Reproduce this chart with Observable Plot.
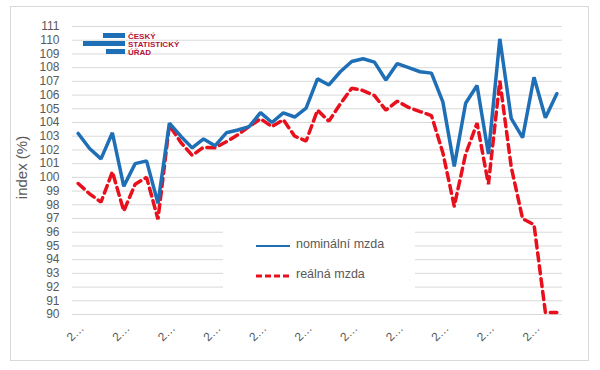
<!DOCTYPE html>
<html>
<head>
<meta charset="utf-8">
<script src="https://cdn.jsdelivr.net/npm/d3@7"></script>
<script src="https://cdn.jsdelivr.net/npm/@observablehq/plot@0.6"></script>
<style>
  html, body { margin: 0; padding: 0; background: #fff; }
  #wrap { position: relative; width: 600px; height: 370px; font-family: "Liberation Sans", Arial, sans-serif; }
  #wrap svg.plot { position: absolute; left: 0; top: 0; }
  #frame { position: absolute; left: 10px; top: 6px; width: 579px; height: 355px; border: 1px solid #d9d9d9; box-sizing: border-box; pointer-events: none; }
  #legend { position: absolute; left: 223px; top: 231px; width: 192px; height: 60px; background: #fff; }
  .leg { position: absolute; left: 0; font-size: 12.5px; color: #595959; }
  #logo { position: absolute; left: 80px; top: 30px; }
</style>
</head>
<body>
<div id="wrap">
  <div id="frame"></div>
</div>
<script>
// Series (index, %), quarterly, 43 periods
const nominalWage = [103.2, 102.1, 101.35, 103.25, 99.35, 101.0, 101.2, 98.1,
  103.95, 103.0, 102.15, 102.8, 102.3, 103.25, 103.45, 103.7,
  104.72, 104.0, 104.7, 104.4, 105.05, 107.18, 106.74, 107.7,
  108.45, 108.65, 108.4, 107.1, 108.3, 108.0, 107.7, 107.6,
  105.5, 100.8, 105.4, 106.7, 101.7, 110.1, 104.3, 102.9,
  107.3, 104.35, 106.1];
const realWage = [99.55, 98.8, 98.2, 100.4, 97.55, 99.5, 100.0, 96.95,
  103.8, 102.55, 101.6, 102.2, 102.15, 102.6, 103.1, 103.7,
  104.27, 103.7, 104.2, 103.0, 102.65, 104.9, 104.1, 105.35,
  106.5, 106.33, 105.96, 104.9, 105.55, 105.1, 104.8, 104.5,
  101.8, 97.9, 101.7, 103.95, 99.5, 107.05, 100.75, 96.98,
  96.55, 90.15, 90.15];
const seriesNames = ["nominální mzda", "reálná mzda"];
const tickIndex = [0, 4, 8, 12, 16, 20, 24, 28, 32, 36, 40];
const tickLabels = ["2…", "2…", "2…", "2…", "2…", "2…", "2…", "2…", "2…", "2…", "2…"];
const yTicks = d3.range(90, 112);
const yLabel = "index (%)";

const nominalData = nominalWage.map((v, i) => ({i, v}));
const realData = realWage.map((v, i) => ({i, v}));
const tickData = tickIndex.map((i, k) => ({i, label: tickLabels[k]}));

const BLUE = "#1f6fb6";
const RED = "#e8101c";
const GREY = "#595959";

const chart = Plot.plot({
  width: 600,
  height: 370,
  marginLeft: 72,
  marginRight: 38,
  marginTop: 26,
  marginBottom: 56,
  style: {fontFamily: "Liberation Sans, Arial, sans-serif", color: GREY, background: "transparent"},
  x: {type: "linear", domain: [-0.5, nominalWage.length - 0.5], axis: null},
  y: {domain: [90, 111], axis: null},
  marks: [
    Plot.gridY(yTicks, {stroke: "#d9d9d9", strokeOpacity: 1, strokeWidth: 1}),
    Plot.axisY(yTicks, {tickSize: 0, tickPadding: 13, fontSize: 12, fill: GREY, label: null}),
    Plot.text([yLabel], {frameAnchor: "left", textAnchor: "middle", dx: -50, dy: -3, rotate: -90, fontSize: 15, fill: GREY}),
    Plot.text(tickData, {x: "i", text: "label", frameAnchor: "bottom", dy: 21, rotate: -45, fontSize: 12, fill: GREY}),
    Plot.line(realData, {x: "i", y: "v", stroke: RED, strokeWidth: 3.5, strokeDasharray: "8,5", strokeLinejoin: "miter"}),
    Plot.line(nominalData, {x: "i", y: "v", stroke: BLUE, strokeWidth: 3.5, strokeLinejoin: "miter"})
  ]
});
chart.classList.add("plot");
const wrap = document.getElementById("wrap");
wrap.insertBefore(chart, wrap.firstChild);

// legend
const legend = document.createElement("div");
legend.id = "legend";
legend.innerHTML = `
  <svg width="192" height="60" style="position:absolute;left:0;top:0">
    <line x1="33" x2="67" y1="15" y2="15" stroke="${BLUE}" stroke-width="2"/>
    <line x1="33" x2="67" y1="45" y2="45" stroke="${RED}" stroke-width="3" stroke-dasharray="6,3"/>
  </svg>
  <div class="leg" style="left:73px;top:6px">${seriesNames[0]}</div>
  <div class="leg" style="left:73px;top:36px">${seriesNames[1]}</div>`;
wrap.appendChild(legend);

// logo
const logo = document.createElement("div");
logo.id = "logo";
logo.innerHTML = `
  <svg width="110" height="30">
    <rect x="23" y="3" width="22" height="5" fill="#1f6fb6"/>
    <rect x="3" y="11" width="42" height="5" fill="#1f6fb6"/>
    <rect x="26" y="19" width="19" height="5" fill="#1f6fb6"/>
    <g fill="#b5123a" font-family="Liberation Sans Narrow, Liberation Sans, Arial" font-weight="bold" font-size="8">
      <text x="48" y="8.5">ČESKÝ</text>
      <text x="48" y="16.5">STATISTICKÝ</text>
      <text x="48" y="24.5">ÚŘAD</text>
    </g>
  </svg>`;
wrap.appendChild(logo);
</script>
</body>
</html>
